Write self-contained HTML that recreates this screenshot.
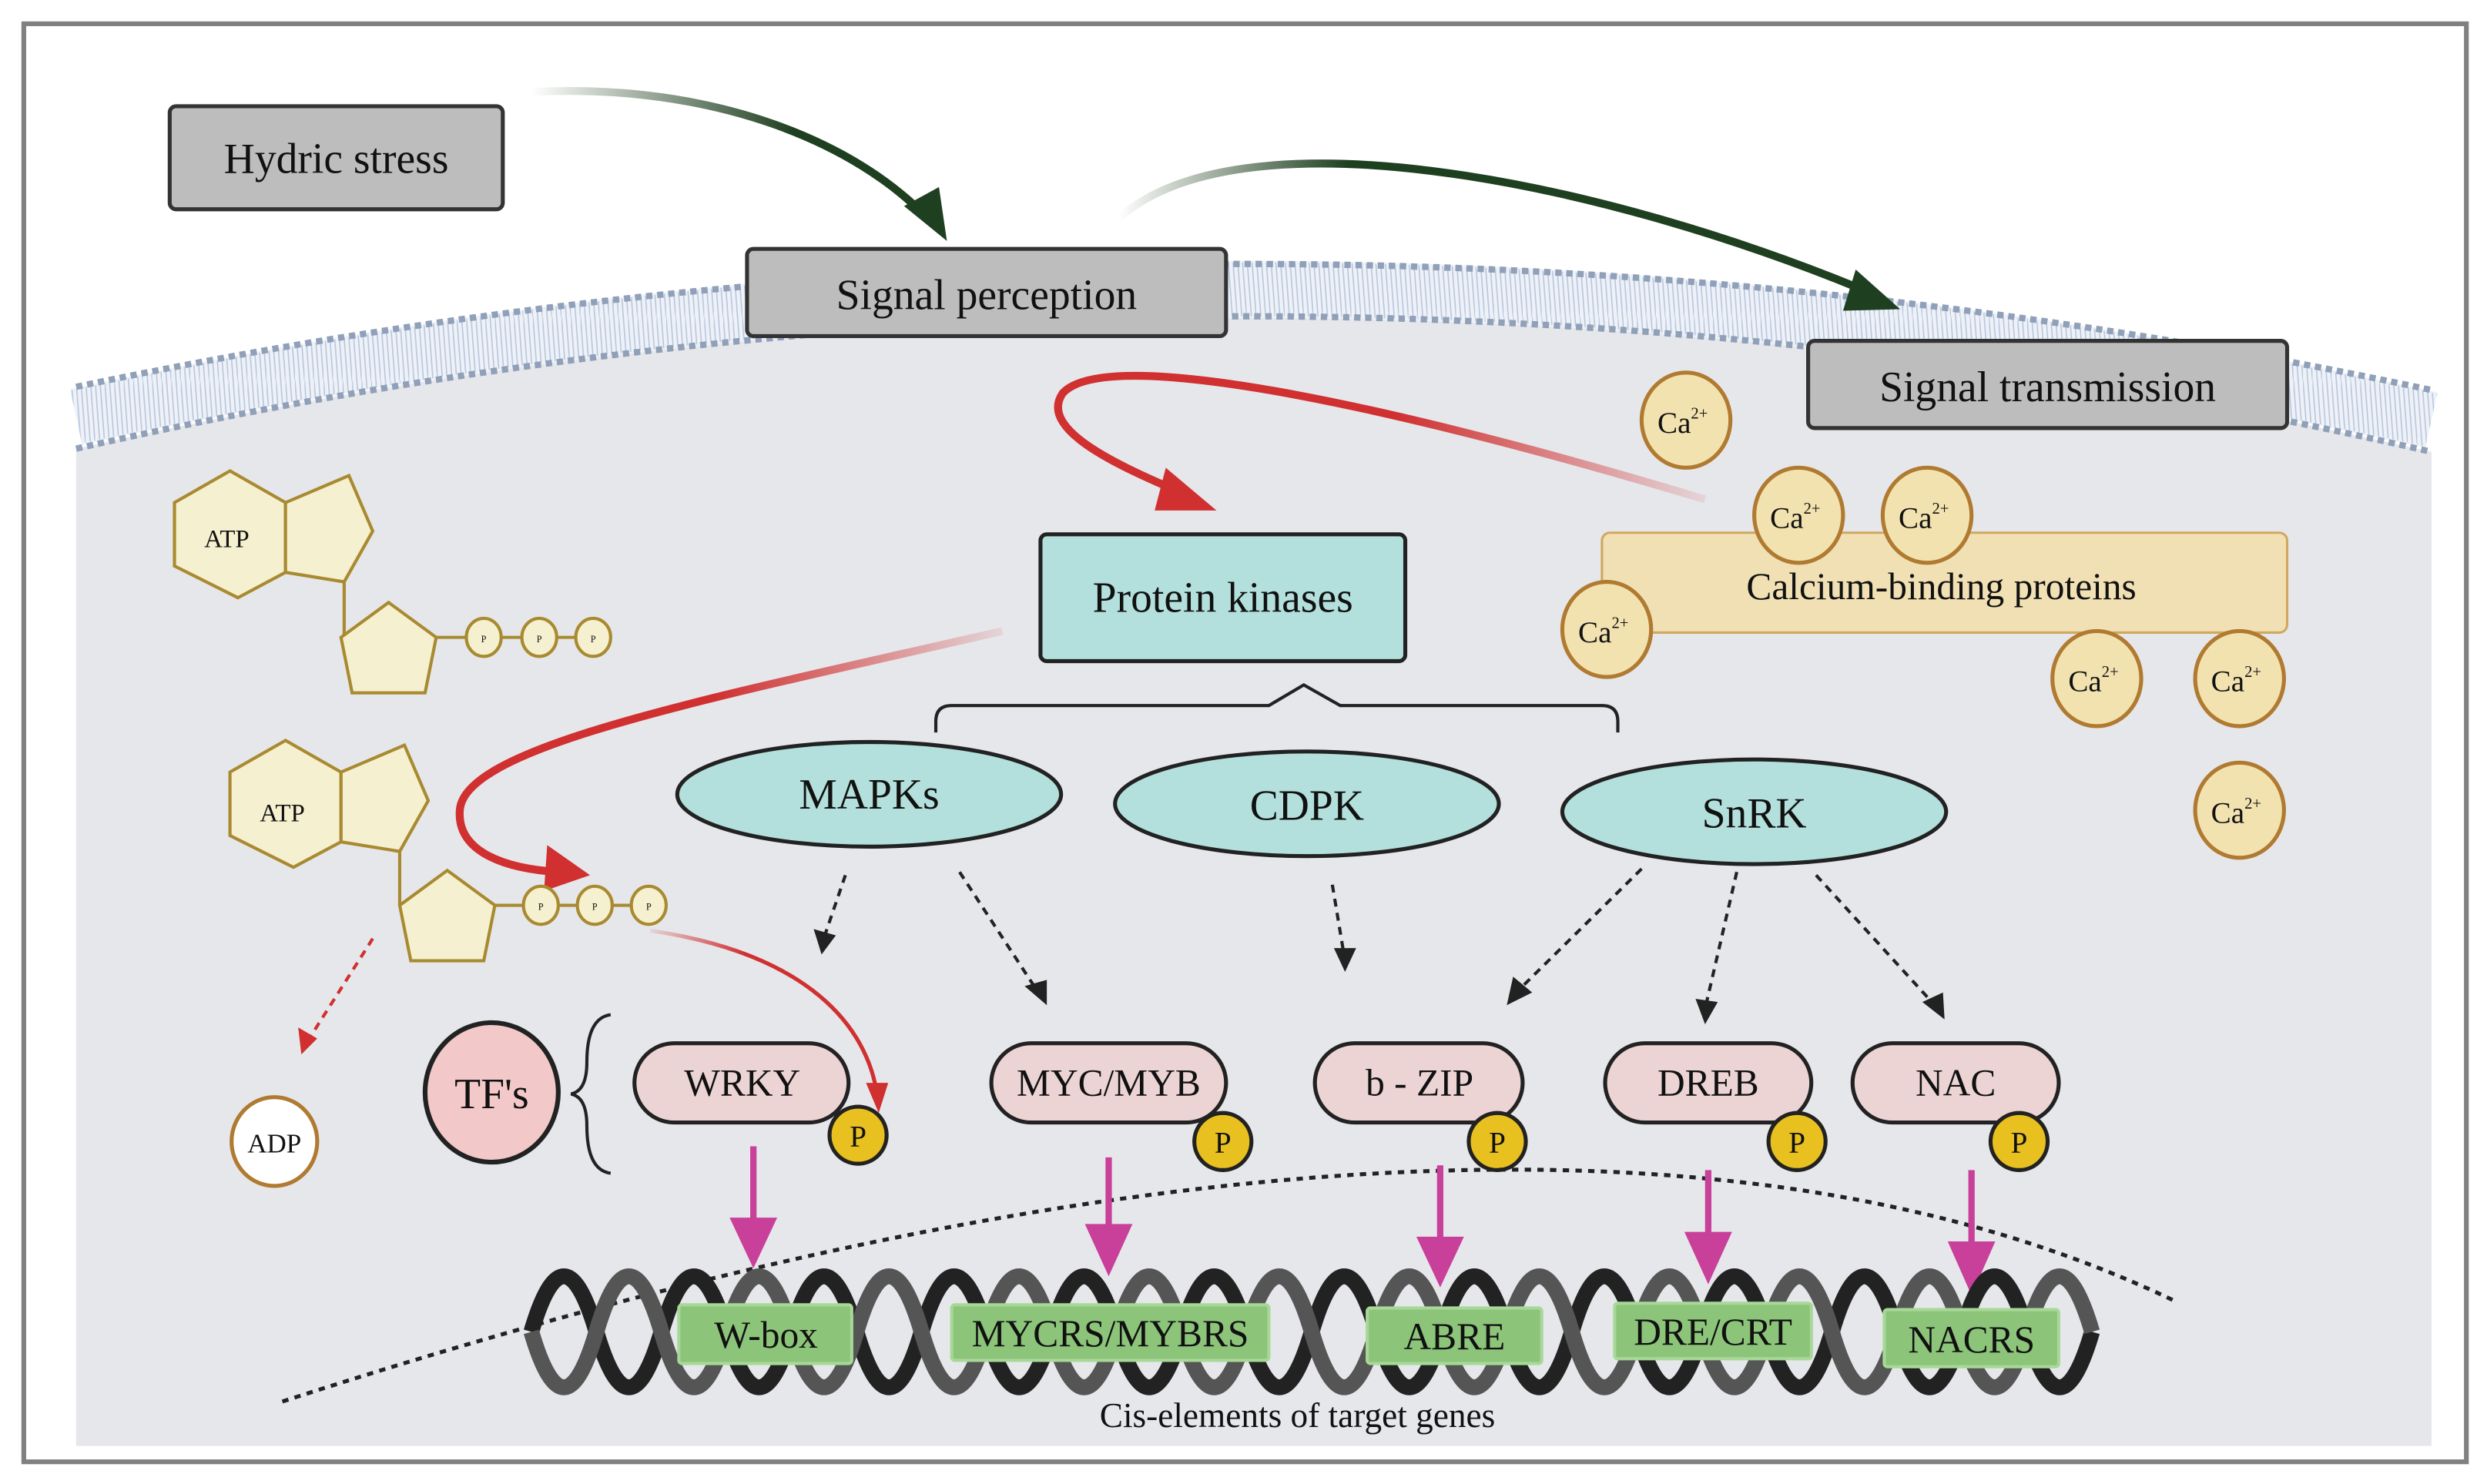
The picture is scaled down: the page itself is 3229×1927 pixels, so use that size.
<!DOCTYPE html>
<html><head><meta charset="utf-8"><style>
html,body{margin:0;padding:0;background:#fff;}
svg{display:block;}
text{font-family:"Liberation Serif",serif;fill:#111;}
</style></head><body>
<svg width="3229" height="1927" viewBox="0 0 1568 936" preserveAspectRatio="none" xmlns="http://www.w3.org/2000/svg">
<defs>
<linearGradient id="gg1" x1="335" y1="0" x2="500" y2="0" gradientUnits="userSpaceOnUse"><stop offset="0" stop-color="#1f4020" stop-opacity="0"/><stop offset="1" stop-color="#1f4020"/></linearGradient>
<linearGradient id="gg2" x1="705" y1="0" x2="850" y2="0" gradientUnits="userSpaceOnUse"><stop offset="0" stop-color="#1f4020" stop-opacity="0"/><stop offset="1" stop-color="#1f4020"/></linearGradient>
<linearGradient id="rg1" x1="1075" y1="0" x2="880" y2="0" gradientUnits="userSpaceOnUse"><stop offset="0" stop-color="#d03030" stop-opacity="0.1"/><stop offset="1" stop-color="#d03030"/></linearGradient>
<linearGradient id="rg2" x1="632" y1="0" x2="450" y2="0" gradientUnits="userSpaceOnUse"><stop offset="0" stop-color="#d03030" stop-opacity="0.1"/><stop offset="1" stop-color="#d03030"/></linearGradient>
<linearGradient id="rg3" x1="410" y1="0" x2="470" y2="0" gradientUnits="userSpaceOnUse"><stop offset="0" stop-color="#d03030" stop-opacity="0.1"/><stop offset="1" stop-color="#d03030"/></linearGradient>
<pattern id="hatch" width="6" height="40" patternUnits="userSpaceOnUse"><path d="M0,0 L3,40 M3,0 L6,40" stroke="#b8c6dc" stroke-width="0.8"/></pattern>
</defs>
<rect x="0" y="0" width="1568" height="936" fill="#fff"/>
<rect x="15" y="15" width="1540" height="907" fill="#fff" stroke="#808080" stroke-width="3"/>
<!-- cell -->
<path d="M48,283 Q790,115 1533,285 L1533,912 L48,912 Z" fill="#e6e7eb"/>
<!-- membrane -->
<path d="M48,263 Q790,101 1533,265" fill="none" stroke="#eef2f8" stroke-width="36"/>
<path d="M48,263 Q790,101 1533,265" fill="none" stroke="url(#hatch)" stroke-width="34"/>
<path d="M48,244 Q790,88 1533,246" fill="none" stroke="#8fa0b8" stroke-width="4" stroke-dasharray="4,3"/>
<path d="M48,283 Q790,115 1533,285" fill="none" stroke="#8fa0b8" stroke-width="4" stroke-dasharray="4,3"/>
<!-- green arrows -->
<path d="M335,58 C450,52 540,90 585,138" fill="none" stroke="url(#gg1)" stroke-width="5"/>
<polygon points="570,130 597,152 592,118" fill="#1f4020"/>
<path d="M705,138 C780,70 1000,110 1180,185" fill="none" stroke="url(#gg2)" stroke-width="5"/>
<polygon points="1170,170 1198,195 1162,196" fill="#1f4020"/>
<!-- boxes -->
<rect x="107" y="67" width="210" height="65" rx="4" fill="#bdbdbd" stroke="#333" stroke-width="2.5"/>
<text x="212" y="109" font-size="27" text-anchor="middle">Hydric stress</text>
<rect x="471" y="157" width="302" height="55" rx="4" fill="#bdbdbd" stroke="#333" stroke-width="2.5"/>
<text x="622" y="195" font-size="27" text-anchor="middle">Signal perception</text>
<rect x="1140" y="215" width="302" height="55" rx="4" fill="#bdbdbd" stroke="#333" stroke-width="2.5"/>
<text x="1291" y="253" font-size="27" text-anchor="middle">Signal transmission</text>
<!-- red arrows -->
<path d="M1075,315 C900,262 700,215 670,248 C655,270 700,292 748,312" fill="none" stroke="url(#rg1)" stroke-width="5"/>
<polygon points="735,295 767,322 728,322" fill="#d03030"/>
<path d="M632,398 C450,440 295,470 290,510 C287,538 320,548 352,550" fill="none" stroke="url(#rg2)" stroke-width="5"/>
<polygon points="345,533 372,552 343,562" fill="#d03030"/>
<path d="M410,587 C500,600 545,640 553,690" fill="none" stroke="url(#rg3)" stroke-width="2.5"/>
<polygon points="546,683 560,683 554,702" fill="#d03030"/>
<!-- protein kinases -->
<rect x="656" y="337" width="230" height="80" rx="4" fill="#b3e0dc" stroke="#222" stroke-width="2.5"/>
<text x="771" y="386" font-size="27" text-anchor="middle">Protein kinases</text>
<!-- calcium -->
<rect x="1010" y="336" width="432" height="63" rx="5" fill="#f0e0b4" stroke="#d0a860" stroke-width="1.5"/>
<text x="1224" y="378" font-size="24" text-anchor="middle">Calcium-binding proteins</text>
<g fill="#f2e2b0" stroke="#b07a30" stroke-width="2.5">
<ellipse cx="1063" cy="265" rx="28" ry="30"/><ellipse cx="1134" cy="325" rx="28" ry="30"/><ellipse cx="1215" cy="325" rx="28" ry="30"/><ellipse cx="1013" cy="397" rx="28" ry="30"/><ellipse cx="1322" cy="428" rx="28" ry="30"/><ellipse cx="1412" cy="428" rx="28" ry="30"/><ellipse cx="1412" cy="511" rx="28" ry="30"/>
</g>
<g font-size="19">
<text x="1045" y="273">Ca<tspan font-size="10" dy="-9">2+</tspan></text>
<text x="1116" y="333">Ca<tspan font-size="10" dy="-9">2+</tspan></text>
<text x="1197" y="333">Ca<tspan font-size="10" dy="-9">2+</tspan></text>
<text x="995" y="405">Ca<tspan font-size="10" dy="-9">2+</tspan></text>
<text x="1304" y="436">Ca<tspan font-size="10" dy="-9">2+</tspan></text>
<text x="1394" y="436">Ca<tspan font-size="10" dy="-9">2+</tspan></text>
<text x="1394" y="519">Ca<tspan font-size="10" dy="-9">2+</tspan></text>
</g>
<!-- brace -->
<path d="M590,462 L590,455 Q590,445 600,445 L800,445 L822,432 L845,445 L1010,445 Q1020,445 1020,455 L1020,462" fill="none" stroke="#222" stroke-width="2"/>
<!-- ellipses -->
<g fill="#b3e0dc" stroke="#222" stroke-width="2.5">
<ellipse cx="548" cy="501" rx="121" ry="33"/><ellipse cx="824" cy="507" rx="121" ry="33"/><ellipse cx="1106" cy="512" rx="121" ry="33"/>
</g>
<text x="548" y="510" font-size="27" text-anchor="middle">MAPKs</text>
<text x="824" y="517" font-size="27" text-anchor="middle">CDPK</text>
<text x="1106" y="522" font-size="27" text-anchor="middle">SnRK</text>
<!-- dotted black arrows -->
<g stroke="#222" stroke-width="2" stroke-dasharray="5,4" fill="none">
<path d="M533,552 L520,590"/><path d="M605,550 L652,622"/><path d="M840,558 L847,600"/><path d="M1035,548 L960,622"/><path d="M1095,550 L1076,632"/><path d="M1145,552 L1218,632"/>
</g>
<g fill="#222">
<polygon points="513,586 527,590 518,602"/><polygon points="646,622 660,618 660,634"/><polygon points="841,598 855,598 848,613"/><polygon points="954,616 966,626 950,634"/><polygon points="1069,630 1083,632 1075,646"/><polygon points="1212,632 1225,626 1226,643"/>
</g>
<!-- ATP 1 -->
<g fill="#f5f0d0" stroke="#a88a30" stroke-width="2">
<polygon points="145,297 180,317 180,361 150,377 110,357 110,317"/>
<polygon points="180,317 220,300 235,335 217,367 180,361"/>
<line x1="217" y1="367" x2="217" y2="402"/>
<polygon points="245,380 275,402 268,437 222,437 215,402"/>
<line x1="275" y1="402" x2="376" y2="402"/>
<ellipse cx="305" cy="402" rx="11" ry="12"/><ellipse cx="340" cy="402" rx="11" ry="12"/><ellipse cx="374" cy="402" rx="11" ry="12"/>
<!-- ATP 2 -->
<polygon points="180,467 215,487 215,531 185,547 145,527 145,487"/>
<polygon points="215,487 255,470 270,505 252,537 215,531"/>
<line x1="252" y1="537" x2="252" y2="571"/>
<polygon points="282,549 312,571 305,606 259,606 252,571"/>
<line x1="312" y1="571" x2="411" y2="571"/>
<ellipse cx="341" cy="571" rx="11" ry="12"/><ellipse cx="375" cy="571" rx="11" ry="12"/><ellipse cx="409" cy="571" rx="11" ry="12"/>
</g>
<g font-size="6" text-anchor="middle"><text x="305" y="405">P</text><text x="340" y="405">P</text><text x="374" y="405">P</text><text x="341" y="574">P</text><text x="375" y="574">P</text><text x="409" y="574">P</text></g>
<text x="143" y="345" font-size="16" text-anchor="middle">ATP</text>
<text x="178" y="518" font-size="16" text-anchor="middle">ATP</text>
<!-- ADP -->
<path d="M235,592 L195,655" stroke="#d03030" stroke-width="2" stroke-dasharray="5,4"/>
<polygon points="188,648 200,655 190,665" fill="#d03030"/>
<ellipse cx="173" cy="720" rx="27" ry="28" fill="#fff" stroke="#b07a30" stroke-width="2.5"/>
<text x="173" y="727" font-size="17" text-anchor="middle">ADP</text>
<!-- TFs -->
<ellipse cx="310" cy="689" rx="42" ry="44" fill="#f2c8c8" stroke="#222" stroke-width="3"/>
<text x="310" y="699" font-size="27" text-anchor="middle">TF's</text>
<path d="M385,640 Q370,642 370,670 Q370,688 360,690 Q370,692 370,710 Q370,738 385,740" fill="none" stroke="#222" stroke-width="2"/>
<g fill="#ecd4d4" stroke="#222" stroke-width="2.5">
<rect x="400" y="658" width="135" height="50" rx="25"/><rect x="625" y="658" width="148" height="50" rx="25"/><rect x="829" y="658" width="131" height="50" rx="25"/><rect x="1012" y="658" width="130" height="50" rx="25"/><rect x="1168" y="658" width="130" height="50" rx="25"/>
</g>
<g font-size="24" text-anchor="middle">
<text x="468" y="691">WRKY</text><text x="699" y="691">MYC/MYB</text><text x="895" y="691">b - ZIP</text><text x="1077" y="691">DREB</text><text x="1233" y="691">NAC</text>
</g>
<g fill="#e8c020" stroke="#222" stroke-width="2.5">
<circle cx="541" cy="716" r="18"/><circle cx="771" cy="720" r="18"/><circle cx="944" cy="720" r="18"/><circle cx="1133" cy="720" r="18"/><circle cx="1273" cy="720" r="18"/>
</g>
<g font-size="19" text-anchor="middle"><text x="541" y="723">P</text><text x="771" y="727">P</text><text x="944" y="727">P</text><text x="1133" y="727">P</text><text x="1273" y="727">P</text></g>
<!-- dotted arc -->
<path d="M178,884 Q966,628 1370,820" fill="none" stroke="#222" stroke-width="2.5" stroke-dasharray="4,4"/>
<!-- magenta arrows -->
<g fill="#c8409a">
<rect x="473" y="723" width="4" height="48"/><polygon points="460,768 490,768 475,800"/>
<rect x="697" y="730" width="4" height="45"/><polygon points="684,772 714,772 699,805"/>
<rect x="906" y="735" width="4" height="48"/><polygon points="893,780 923,780 908,812"/>
<rect x="1075" y="738" width="4" height="42"/><polygon points="1062,777 1092,777 1077,810"/>
<rect x="1241" y="738" width="4" height="48"/><polygon points="1228,783 1258,783 1243,817"/>
</g>
<!-- DNA -->
<path d="M335,840 Q355.5,770 376,840 T417,840 T458,840 T499,840 T540,840 T581,840 T622,840 T663,840 T704,840 T745,840 T786,840 T827,840 T868,840 T909,840 T950,840 T991,840 T1032,840 T1073,840 T1114,840 T1155,840 T1196,840 T1237,840 T1278,840 T1319,840" fill="none" stroke="#222" stroke-width="10"/>
<path d="M335,840 Q355.5,910 376,840 T417,840 T458,840 T499,840 T540,840 T581,840 T622,840 T663,840 T704,840 T745,840 T786,840 T827,840 T868,840 T909,840 T950,840 T991,840 T1032,840 T1073,840 T1114,840 T1155,840 T1196,840 T1237,840 T1278,840 T1319,840" fill="none" stroke="#555" stroke-width="10"/>
<g fill="#8cc47a" stroke="#a8d898" stroke-width="2">
<rect x="428" y="823" width="109" height="37" rx="2"/><rect x="600" y="823" width="200" height="35" rx="2"/><rect x="862" y="825" width="110" height="35" rx="2"/><rect x="1018" y="822" width="124" height="35" rx="2"/><rect x="1188" y="826" width="110" height="36" rx="2"/>
</g>
<g font-size="24" text-anchor="middle">
<text x="483" y="850">W-box</text><text x="700" y="849">MYCRS/MYBRS</text><text x="917" y="851">ABRE</text><text x="1080" y="848">DRE/CRT</text><text x="1243" y="853">NACRS</text>
</g>
<text x="818" y="900" font-size="22" text-anchor="middle">Cis-elements of target genes</text>
</svg>
</body></html>
